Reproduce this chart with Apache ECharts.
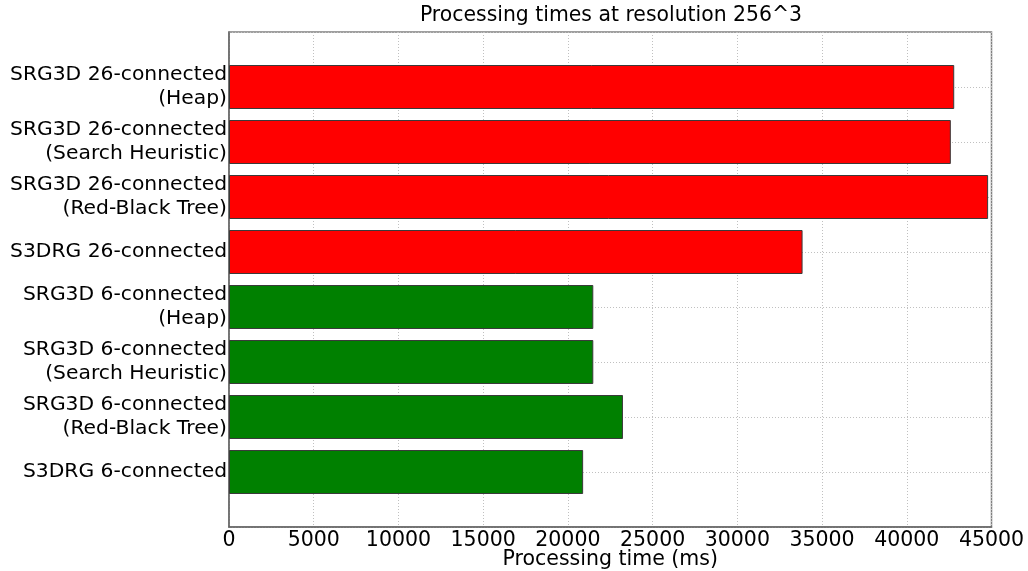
<!DOCTYPE html>
<html>
<head>
<meta charset="utf-8">
<script src="https://cdn.jsdelivr.net/npm/echarts@6/dist/echarts.min.js"></script>
<style>html,body{margin:0;padding:0;background:#fff;}#c{width:1028px;height:571px;}</style>
</head>
<body>
<div id="c"></div>
<script>
// Data (top to bottom as in the picture)
const categories = [
  'SRG3D 26-connected\n(Heap)',
  'SRG3D 26-connected\n(Search Heuristic)',
  'SRG3D 26-connected\n(Red-Black Tree)',
  'S3DRG 26-connected',
  'SRG3D 6-connected\n(Heap)',
  'SRG3D 6-connected\n(Search Heuristic)',
  'SRG3D 6-connected\n(Red-Black Tree)',
  'S3DRG 6-connected'
];
const times = [42800, 42600, 44800, 33850, 21500, 21500, 23250, 20900];
const connectivity = [26, 26, 26, 26, 6, 6, 6, 6];
const xTicks = [0, 5000, 10000, 15000, 20000, 25000, 30000, 35000, 40000, 45000];
const titleText = 'Processing times at resolution 256^3';
const xName = 'Processing time (ms)';

const colorFor = { 26: '#ff0000', 6: '#008000' };
const FONT = 'DejaVu Sans';

// category axis runs bottom->top; pad with blank entries at both ends
const yCats = [''].concat(categories.slice().reverse(), ['']);
const barData = [null].concat(
  times.map((v, i) => ({ value: v, itemStyle: { color: colorFor[connectivity[i]] } })).reverse(),
  [null]
);

const chart = echarts.init(document.getElementById('c'), null, { renderer: 'canvas' });
chart.setOption({
  animation: false,
  backgroundColor: '#fff',
  textStyle: { fontFamily: FONT },
  grid: {
    left: 229, right: 36.5, top: 32, bottom: 44,
    outerBoundsMode: 'none', containLabel: false,
    show: true, borderColor: '#808080', borderWidth: 1.5, backgroundColor: 'transparent'
  },
  graphic: [{
    type: 'text',
    x: 611, y: 6,
    style: { text: titleText, fill: '#000', font: '20.4px "DejaVu Sans"', textAlign: 'center', textVerticalAlign: 'top' }
  }],
  xAxis: {
    type: 'value',
    min: xTicks[0], max: xTicks[xTicks.length - 1], interval: xTicks[1] - xTicks[0],
    name: xName, nameLocation: 'middle', nameGap: 33, nameMoveOverlap: false,
    nameTextStyle: { fontFamily: FONT, fontSize: 20.5, color: '#000', verticalAlign: 'middle' },
    axisLine: { show: true, lineStyle: { color: '#666', width: 1.5 } },
    axisTick: { show: false },
    axisLabel: { fontFamily: FONT, fontSize: 20.5, color: '#000', margin: 3, formatter: v => String(v) },
    splitLine: { show: true, lineStyle: { color: '#c0c0c0', type: [1, 2], width: 1 } }
  },
  yAxis: {
    type: 'category',
    data: yCats,
    boundaryGap: false,
    axisLine: { show: true, lineStyle: { color: '#666', width: 1.5 } },
    axisTick: { show: false },
    axisLabel: { fontFamily: FONT, fontSize: 20.3, color: '#000', margin: 2, lineHeight: 24, align: 'right', interval: 0 },
    splitLine: { show: true, lineStyle: { color: '#c0c0c0', type: [1, 2], width: 1 } }
  },
  series: [{
    type: 'bar',
    data: barData,
    barWidth: 44,
    itemStyle: { borderColor: '#3a3a3a', borderWidth: 1 }
  }]
});
</script>
</body>
</html>
